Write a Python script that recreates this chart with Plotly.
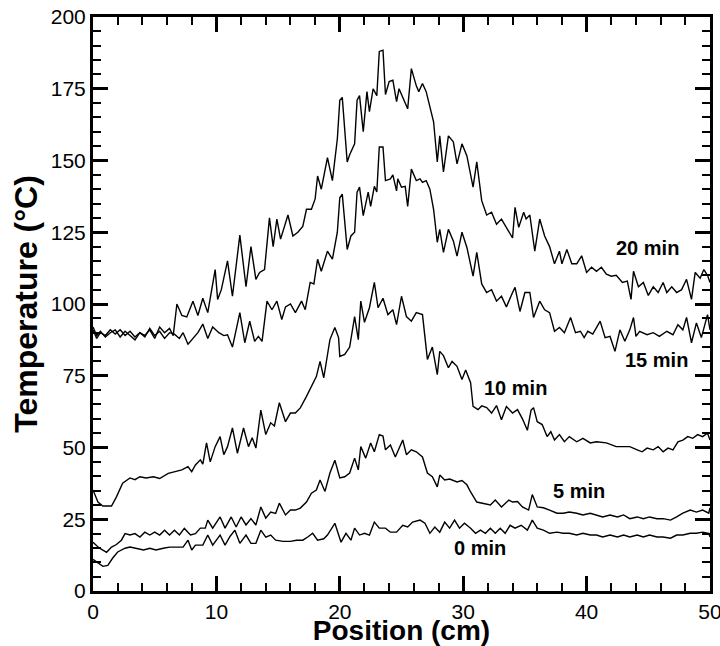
import plotly.graph_objects as go

# ---------------- data ----------------
pos_20 = [0, 0.3, 0.6, 1.0, 1.4, 1.8, 2.2, 2.6, 3.0, 3.4, 3.8, 4.2, 4.6, 5.0, 5.4, 5.8, 6.2, 6.5,
          6.8, 7.2, 7.6, 8.1, 8.5, 8.9, 9.3, 9.9, 10.1, 10.4, 10.9, 11.3, 11.9, 12.4, 12.8, 13.2,
          13.5, 13.9, 14.3, 14.6, 14.9, 15.2, 15.8, 16.2, 16.6, 17.0, 17.3, 17.7, 18.0, 18.2, 18.5,
          19.0, 19.4, 19.8, 20.0, 20.2, 20.6, 20.8, 21.2, 21.4, 21.6, 21.9, 22.2, 22.4, 22.7, 23.0,
          23.2, 23.5, 23.7, 24.0, 24.3, 24.6, 24.8, 25.2, 25.5, 25.8, 26.2, 26.4, 26.7, 27.0, 27.3,
          27.6, 27.9, 28.1, 28.4, 28.8, 29.2, 29.5, 29.9, 30.3, 30.8, 31.1, 31.5, 31.9, 32.3, 32.7,
          33.1, 33.5, 34.0, 34.2, 34.5, 34.9, 35.1, 35.4, 35.8, 36.2, 36.6, 37.0, 37.4, 37.8, 38.0,
          38.4, 38.8, 39.2, 39.6, 40.0, 40.4, 40.8, 41.2, 41.6, 42.0, 42.4, 42.9, 43.3, 43.6, 43.8,
          44.2, 44.6, 45.0, 45.4, 45.8, 46.2, 46.5, 46.9, 47.3, 47.7, 48.1, 48.5, 48.8, 49.2, 49.5,
          49.8, 50.0]
temp_20 = [91, 88, 90, 89, 91, 89.5, 91, 89, 90.5, 88.5, 90, 89, 91, 88, 92, 90, 91.5, 89,
           100, 96, 95.5, 101, 96, 102, 97, 112, 101.6, 105, 115, 102.7, 124, 106, 120, 108.6,
           111, 112, 130, 120, 129.6, 122.6, 131, 123.7, 125, 127, 133, 133, 136.6, 144.6, 140,
           151, 143, 157.5, 171, 172, 149.5, 152, 155.8, 171, 172.6, 160, 174, 167, 175, 172.6,
           188, 188.4, 173, 177.5, 178, 170.5, 175, 171, 168, 182, 176, 174, 176.8, 174, 169,
           163.5, 149.5, 158.6, 146, 158.6, 156.5, 148.8, 155.8, 151.6, 140.7, 149.5, 136, 131, 132, 127.8,
           129.6, 126.8, 123, 133.7, 126.7, 132, 129.6, 131, 118.4, 129.6, 123.7, 120, 114, 118.4, 114,
           119, 114, 114, 116.8, 111, 112.8, 111.4, 112.8, 110.4, 109.7, 110, 107.5, 108, 101.6, 111.4,
           106, 107.5, 103, 106, 104, 107.5, 104, 106, 104, 105, 108.6, 101.6, 111, 109, 112,
           110, 107.5]

pos_15 = [0, 0.3, 0.6, 1.0, 1.4, 1.8, 2.2, 2.6, 3.0, 3.4, 3.8, 4.2, 4.6, 5.0, 5.4, 5.8, 6.2, 6.6,
          7.0, 7.3, 7.7, 8.1, 8.5, 8.9, 9.3, 9.7, 10.2, 10.6, 10.9, 11.3, 11.9, 12.3, 12.7, 13.1,
          13.4, 13.7, 14.1, 14.5, 14.9, 15.3, 15.6, 16.0, 16.4, 16.9, 17.2, 17.6, 17.9, 18.2, 18.5,
          19.0, 19.4, 19.8, 20.0, 20.2, 20.6, 20.9, 21.2, 21.4, 21.6, 21.9, 22.3, 22.5, 22.8, 23.0,
          23.2, 23.5, 23.7, 24.1, 24.3, 24.6, 24.7, 25.0, 25.3, 25.5, 25.8, 26.2, 26.5, 26.7, 27.0,
          27.3, 27.6, 27.9, 28.1, 28.4, 28.8, 29.2, 29.5, 29.9, 30.3, 30.8, 31.1, 31.5, 31.9, 32.3,
          32.7, 33.1, 33.5, 34.0, 34.2, 34.6, 35.0, 35.4, 35.7, 36.2, 36.6, 37.0, 37.4, 37.8, 38.2,
          38.7, 39.1, 39.5, 39.8, 40.1, 40.5, 41.1, 41.5, 41.9, 42.3, 42.7, 43.1, 43.5, 43.8, 44.0,
          44.3, 44.9, 45.4, 45.9, 46.5, 47.0, 47.4, 47.8, 48.1, 48.5, 48.9, 49.3, 49.8, 50.0]
temp_15 = [92, 89, 90.5, 88.5, 90, 91, 88.5, 90.5, 89, 87.5, 90, 88.5, 91.5, 89, 90.5, 88, 90, 89.5,
           88, 90, 86, 88, 90, 93, 88, 92, 90, 89, 89.3, 85, 97, 86.5, 94, 87,
           88.7, 87, 101, 98, 101, 94.6, 99, 100, 97, 101, 98, 107.5, 107, 115.6, 111.4,
           118.4, 115.6, 125, 137, 138.3, 119, 123.7, 125, 139, 140.7, 130.8, 139, 134, 141, 139,
           154.7, 154.7, 143, 143.6, 145, 139.4, 143.6, 140.7, 141, 134, 147, 143, 143.6, 142.4, 143,
           140, 133, 121.5, 126, 118, 126, 122, 116.7, 125, 119.7, 109.7, 118, 107, 104, 105,
           101, 102.7, 99, 104, 105.8, 97.4, 104, 104, 95.3, 101, 98, 97, 90.5, 91.8, 90,
           95.3, 90, 90.5, 88.3, 90.5, 89.5, 94, 88.3, 88.7, 83.5, 91, 87, 91, 95.3, 88.7,
           90.5, 89.3, 90, 88.7, 90.5, 89.3, 92.8, 91, 95.3, 86.5, 93.4, 88.3, 96.3, 91]

pos_10 = [0, 0.4, 0.8, 1.5, 1.9, 2.4, 3.0, 3.4, 3.8, 4.3, 4.9, 5.4, 6.1, 6.6, 7.2, 7.7, 8.0, 8.3,
          8.7, 8.9, 9.2, 9.5, 9.9, 10.3, 10.6, 10.9, 11.3, 11.7, 12.2, 12.6, 12.9, 13.2, 13.6, 14.0,
          14.4, 14.7, 15.1, 15.6, 16.0, 16.4, 16.8, 17.3, 17.7, 18.1, 18.4, 18.7, 19.2, 19.6, 19.9,
          20.0, 20.4, 20.8, 21.2, 21.5, 21.7, 22.0, 22.4, 22.8, 23.1, 23.5, 23.9, 24.3, 24.6, 25.0,
          25.4, 25.8, 26.2, 26.7, 27.1, 27.5, 27.9, 28.1, 28.4, 28.8, 29.1, 29.5, 29.9, 30.2, 30.6,
          30.8, 31.2, 31.5, 31.9, 32.3, 32.7, 33.1, 33.5, 34.0, 34.4, 34.8, 35.2, 35.5, 35.7, 36.0,
          36.4, 36.8, 37.1, 37.4, 37.8, 38.2, 38.6, 39.2, 39.7, 40.3, 40.8, 41.6, 42.4, 43.0, 43.5,
          44.1, 44.5, 44.9, 45.4, 45.8, 46.2, 46.6, 47.0, 47.4, 47.8, 48.2, 48.6, 49.0, 49.4, 49.8,
          50.0]
temp_10 = [35.2, 31, 29.6, 29.6, 32.8, 37.6, 39.4, 38.8, 39.8, 39.4, 39.8, 39.2, 41, 41.6, 42.2, 43.3, 41.6, 43.9,
           45.7, 44.2, 51.6, 45, 50.3, 53.8, 47.5, 50.3, 56.8, 48, 56.8, 50.3, 53.4, 49.8, 63, 54.5,
           58.6, 57.5, 65.6, 59, 62, 62, 63.8, 67.8, 71.2, 74.7, 80, 74.3, 87.6, 91.8, 88.3,
           81.7, 82.4, 85, 95.6, 87.6, 101, 93.6, 98.7, 107.5, 98.7, 102, 96.3, 98, 92.8, 102.7,
           95.6, 94, 97, 96.3, 80.7, 85, 75.4, 83.5, 82, 77.8, 80, 78.3, 73.7, 77, 72.6,
           64.3, 63.2, 64.5, 63.9, 62, 64.6, 59.7, 64.3, 62, 63.2, 60, 56, 63, 63.9, 59,
           58, 53.8, 55.5, 52.6, 54.5, 52, 53.8, 52, 53.2, 51.6, 52, 51.6, 50.3, 50.3, 50.3,
           49.2, 48.5, 49.8, 49.2, 50.3, 48.5, 49.8, 49.2, 52, 52.6, 53.8, 53.2, 54.5, 53.8, 55,
           52.6]

pos_5 = [0, 0.5, 1.1, 1.5, 1.9, 2.3, 2.6, 3.0, 3.4, 3.8, 4.2, 4.6, 5.0, 5.4, 5.8, 6.2, 6.6, 7.0,
         7.4, 7.9, 8.3, 8.7, 9.1, 9.3, 9.7, 10.3, 10.7, 11.2, 11.6, 12.0, 12.4, 12.8, 13.2, 13.6,
         14.0, 14.4, 14.8, 15.1, 15.6, 16.0, 16.4, 16.8, 17.3, 17.7, 18.1, 18.4, 18.8, 19.2, 19.6,
         20.0, 20.4, 20.8, 21.2, 21.5, 21.7, 22.1, 22.5, 22.8, 23.2, 23.5, 23.7, 24.1, 24.5, 24.9,
         25.1, 25.4, 25.8, 26.2, 26.7, 27.1, 27.5, 27.9, 28.1, 28.5, 28.9, 29.5, 29.9, 30.3, 30.6,
         31.1, 31.6, 32.2, 32.6, 33.1, 33.7, 34.0, 34.4, 34.8, 35.3, 35.6, 36.0, 36.5, 37.0, 37.6,
         38.1, 38.6, 39.2, 39.7, 40.3, 40.8, 41.3, 41.9, 42.5, 43.0, 43.5, 44.1, 44.6, 45.1, 45.7,
         46.2, 46.8, 47.3, 47.8, 48.4, 48.9, 49.4, 49.9, 50.0]
temp_5 = [17, 15, 13.5, 15.3, 16.2, 17.7, 20, 19.5, 20, 18.8, 20.5, 19.5, 20.5, 19.5, 21.2, 19.5, 21.2, 19.5,
          21.8, 19.5, 20, 21.9, 21.9, 24.7, 21.9, 25.8, 21.9, 25.8, 22.3, 25.8, 23, 25.2, 23, 29.3,
          25.4, 27.5, 27, 30.6, 26.5, 28.2, 28.2, 28.9, 31, 34.1, 35.2, 38.7, 34.7, 41.1, 45.6,
          39.4, 39.8, 41.1, 46.3, 42.2, 50.3, 46.3, 51.6, 48.5, 54.5, 54, 49.2, 50.9, 46.7, 50.9,
          52.6, 47.5, 49.2, 48.5, 46.7, 41.1, 39.8, 36.3, 40.4, 38.7, 39, 38, 38.5, 37, 34.5,
          31, 30.6, 30, 31.7, 29.3, 31.7, 31, 31.2, 29.3, 28.2, 33.6, 29.3, 29, 28.2, 27.1,
          27.1, 27.5, 27.1, 26.5, 27.1, 26.5, 25.8, 26.5, 25.8, 26.5, 25.2, 25.8, 25.2, 25.8, 25.2,
          25.2, 24.7, 25.8, 27.1, 28.2, 27.5, 28.2, 27.1, 29]

pos_0 = [0, 0.4, 0.8, 1.2, 1.6, 2.0, 2.6, 3.0, 3.5, 4.1, 4.6, 5.1, 5.7, 6.2, 6.8, 7.3, 7.7, 8.0,
         8.3, 8.9, 9.3, 9.7, 10.3, 10.7, 11.1, 11.5, 11.9, 12.4, 12.8, 13.2, 13.6, 14.0, 14.4, 14.8,
         15.4, 16.0, 16.5, 17.0, 17.4, 17.8, 18.2, 18.7, 19.0, 19.6, 20.1, 20.5, 20.9, 21.2, 21.6,
         22.0, 22.4, 22.8, 23.2, 23.7, 24.1, 24.6, 25.1, 25.5, 25.9, 26.5, 26.9, 27.3, 27.7, 28.1,
         28.5, 28.9, 29.3, 29.7, 30.1, 30.6, 31.0, 31.4, 31.8, 32.2, 32.6, 33.0, 33.4, 33.8, 34.2,
         34.7, 35.2, 35.6, 36.0, 36.5, 37.0, 37.6, 38.1, 38.6, 39.2, 39.7, 40.3, 40.8, 41.3, 41.9,
         42.5, 43.0, 43.5, 44.1, 44.6, 45.1, 45.7, 46.2, 46.8, 47.3, 47.8, 48.4, 48.9, 49.4, 49.9,
         50.0]
temp_0 = [11, 9.8, 8.6, 8.9, 11.5, 13.6, 14.9, 15.3, 14.9, 14.3, 14.9, 14.3, 14.9, 15.3, 15.3, 15.3, 17.7, 14.3,
          16, 16, 19.5, 16, 19.5, 16, 19, 21.2, 16.6, 19.5, 16.6, 16.6, 21.2, 18.8, 19.5, 17.7,
          17.3, 17.3, 17.7, 17.7, 18.8, 20.1, 17.7, 18.2, 19.5, 23.6, 17, 20.1, 17.7, 21.9, 19.5,
          20.1, 19.5, 24, 21.9, 21.9, 20.5, 20.5, 22.9, 22.3, 24, 24.7, 23.6, 20.1, 22.3, 20.5,
          24, 21.9, 24.7, 21.9, 23.6, 21.9, 20.1, 21.2, 20.1, 21.9, 20.1, 21.9, 20.1, 22.9, 21.9,
          22.9, 21.2, 24.7, 21.9, 21.2, 20.1, 20.5, 20.1, 20.1, 19.5, 20.1, 19.5, 19.5, 18.8, 19.5,
          18.8, 19.5, 18.8, 19.5, 18.8, 19.5, 18.8, 18.8, 18.4, 19.5, 19.5, 20.1, 20.1, 20.5, 20.1,
          18.8]

series = [("0 min", pos_0, temp_0), ("5 min", pos_5, temp_5), ("10 min", pos_10, temp_10),
          ("15 min", pos_15, temp_15), ("20 min", pos_20, temp_20)]

label_text = ["20 min", "15 min", "10 min", "5 min", "0 min"]
label_x = [44.9, 45.7, 34.2, 39.4, 31.4]
label_y = [119.5, 80.6, 70.8, 35.0, 14.9]

x_ticks = [0, 10, 20, 30, 40, 50]
y_ticks = [0, 25, 50, 75, 100, 125, 150, 175, 200]
x_range = [0, 50]
y_range = [0, 200]

# ---------------- figure ----------------
FONT = "Liberation Sans, Arial, sans-serif"
fig = go.Figure()
for i, (name, xs, ys) in enumerate(series):
    # the last series lives on the mirrored (top/right) axes, which share identical ranges,
    # so that those axes are drawn with their own tick marks
    ax = dict(xaxis="x2", yaxis="y2") if i == len(series) - 1 else {}
    fig.add_trace(go.Scatter(x=xs, y=ys, mode="lines", name=name,
                             line=dict(color="black", width=1.4), showlegend=False, **ax))

for t, lx, ly in zip(label_text, label_x, label_y):
    fig.add_annotation(x=lx, y=ly, text=f"<b>{t}</b>", showarrow=False,
                       font=dict(family=FONT, size=20, color="black"))

tick_common = dict(ticks="inside", tickcolor="black", tickwidth=3, ticklen=15,
                   showgrid=False, zeroline=False, automargin=False,
                   ticklabeloverflow="allow",
                   tickfont=dict(family=FONT, size=21, color="black"))

fig.update_layout(
    width=720, height=646, margin=dict(l=93, r=10, t=17, b=55),
    plot_bgcolor="white", paper_bgcolor="white",
    xaxis=dict(range=x_range, tickvals=x_ticks, showline=True, linecolor="black", linewidth=3,
               minor=dict(dtick=2, ticks="inside", ticklen=8, tickwidth=2, tickcolor="black", showgrid=False),
               title=dict(text="<b>Position (cm)</b>", font=dict(family=FONT, size=28, color="black"), standoff=3),
               **tick_common),
    yaxis=dict(range=y_range, tickvals=y_ticks, showline=True, linecolor="black", linewidth=3,
               minor=dict(dtick=5, ticks="inside", ticklen=8, tickwidth=2, tickcolor="black", showgrid=False),
               title=dict(text="<b>Temperature (°C)</b>", font=dict(family=FONT, size=32, color="black"), standoff=4),
               **tick_common),
    xaxis2=dict(range=x_range, tickvals=x_ticks, overlaying="x", side="top", anchor="y2",
                showline=True, linecolor="black", linewidth=3, showticklabels=False,
                minor=dict(dtick=2, ticks="inside", ticklen=8, tickwidth=2, tickcolor="black", showgrid=False),
                **tick_common),
    yaxis2=dict(range=y_range, tickvals=y_ticks, overlaying="y", side="right", anchor="x2",
                showline=True, linecolor="black", linewidth=3, showticklabels=False,
                minor=dict(dtick=5, ticks="inside", ticklen=8, tickwidth=2, tickcolor="black", showgrid=False),
                **tick_common),
)

fig.write_html("out.html")
